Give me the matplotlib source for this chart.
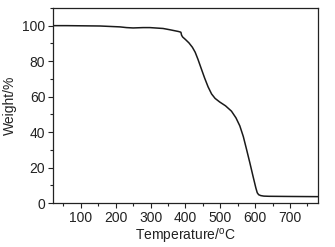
import matplotlib
matplotlib.use("Agg")
import matplotlib.pyplot as plt
from matplotlib.ticker import MultipleLocator

temperature = [20, 59, 155, 212, 231, 250, 279, 298, 336, 355, 365, 380, 387, 389, 392,
               400, 410, 420, 428, 436, 445, 455, 465, 475, 485, 498, 515, 532, 545, 556,
               566, 575, 585, 594, 602, 606, 610, 616, 625, 640, 700, 780]
weight = [100, 100, 99.8, 99.3, 98.9, 98.7, 98.9, 98.9, 98.4, 97.7, 97.3, 96.7, 96.3, 94.6, 93.6,
          92.2, 90.3, 87.8, 85.0, 81.0, 76.0, 70.5, 65.5, 61.5, 59.0, 57.0, 54.8, 51.8, 48.0, 43.5,
          37.5, 30.5, 22.5, 15.0, 8.5, 5.8, 4.7, 4.2, 3.9, 3.8, 3.7, 3.6]

plt.rcParams['font.family'] = ['Liberation Sans', 'DejaVu Sans']

fig = plt.figure(figsize=(3.35, 2.47), dpi=100)
ax = fig.add_axes([0.158, 0.178, 0.791, 0.79])
ax.plot(temperature, weight, color='#1a1a1a', lw=1.1)
ax.set_xlim(20, 780)
ax.set_ylim(0, 110)
ax.xaxis.set_major_locator(MultipleLocator(100))
ax.xaxis.set_minor_locator(MultipleLocator(50))
ax.yaxis.set_major_locator(MultipleLocator(20))
ax.yaxis.set_minor_locator(MultipleLocator(10))
ax.tick_params(which='major', direction='out', length=3.5, width=0.8, labelsize=10, pad=2,
               color='#222222', labelcolor='#222222')
ax.tick_params(which='minor', direction='out', length=2, width=0.8, color='#222222')
ax.set_xlabel('Temperature/$^\\mathregular{o}$C', fontsize=10, labelpad=2, color='#222222')
ax.set_ylabel('Weight/%', fontsize=10, labelpad=4, color='#222222')
for s in ax.spines.values():
    s.set_linewidth(0.9)
    s.set_color('#222222')
fig.savefig('out.png', dpi=100)
